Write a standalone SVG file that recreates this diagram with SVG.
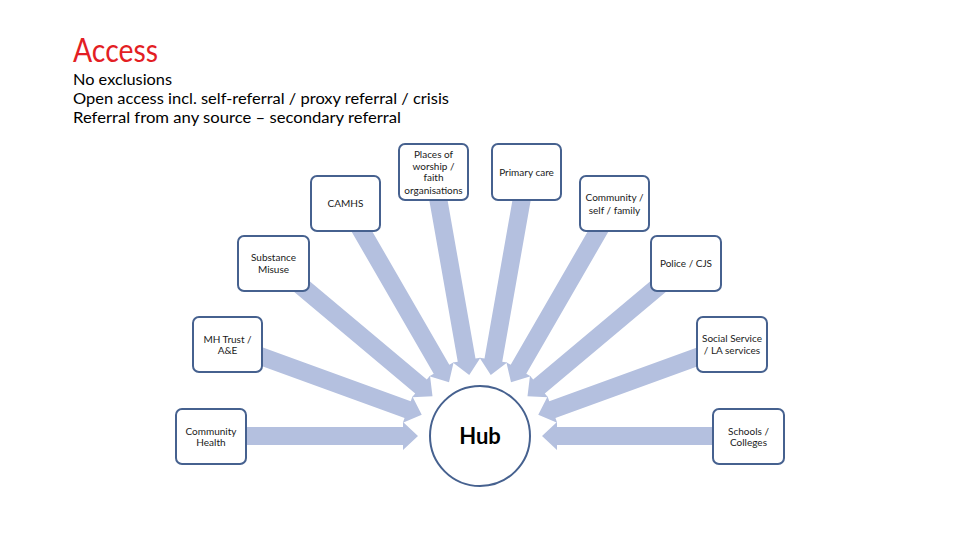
<svg xmlns="http://www.w3.org/2000/svg" xmlns:xlink="http://www.w3.org/1999/xlink" width="960" height="540" viewBox="0 0 960 540">
<style>
.box{fill:#fff;stroke:#46618f;stroke-width:2}
.lbl{font-family:Lato,"Liberation Sans",sans-serif;font-size:10px;fill:#1a1a1a;text-anchor:middle}
.hdr{font-family:Lato,"Liberation Sans",sans-serif;font-size:16px;fill:#000}
.arr{fill:#b4c0df}
</style>
<defs>
<path id="arr" class="arr" d="M-268,-9 L-77,-9 L-77,-14 L-62,0 L-77,14 L-77,9 L-268,9 Z"/>
</defs>
<rect width="960" height="540" fill="#fff"/>
<text x="73" y="62" font-family="Lato,'Liberation Sans',sans-serif" font-size="32" fill="#e31e24" textLength="85" lengthAdjust="spacingAndGlyphs">Access</text>
<text class="hdr" x="73" y="85" textLength="99" lengthAdjust="spacingAndGlyphs">No exclusions</text>
<text class="hdr" x="73" y="104" textLength="376" lengthAdjust="spacingAndGlyphs">Open access incl. self-referral / proxy referral / crisis</text>
<text class="hdr" x="73" y="123" textLength="328" lengthAdjust="spacingAndGlyphs">Referral from any source – secondary referral</text>
<g id="connectors">
<use xlink:href="#arr" transform="translate(480,436) rotate(0)"/>
<use xlink:href="#arr" transform="translate(480,436) rotate(20)"/>
<use xlink:href="#arr" transform="translate(480,436) rotate(40)"/>
<use xlink:href="#arr" transform="translate(480,436) rotate(60)"/>
<use xlink:href="#arr" transform="translate(480,436) rotate(80)"/>
<use xlink:href="#arr" transform="translate(480,436) rotate(100)"/>
<use xlink:href="#arr" transform="translate(480,436) rotate(120)"/>
<use xlink:href="#arr" transform="translate(480,436) rotate(140)"/>
<use xlink:href="#arr" transform="translate(480,436) rotate(160)"/>
<use xlink:href="#arr" transform="translate(480,436) rotate(180)"/>
</g>
<g id="hub">
<circle cx="480" cy="436" r="50" fill="#fff" stroke="#46618f" stroke-width="2"/>
<text x="480" y="444" font-family="Lato,'Liberation Sans',sans-serif" font-size="22" font-weight="bold" fill="#000" text-anchor="middle">Hub</text>
</g>
<g id="community-health">
<rect class="box" x="176" y="409" width="70" height="55" rx="6"/>
<text class="lbl" x="211" y="434.5">Community</text>
<text class="lbl" x="211" y="446">Health</text>
</g>
<g id="mh-trust">
<rect class="box" x="193" y="317" width="69" height="55" rx="6"/>
<text class="lbl" x="227.5" y="342.5">MH Trust /</text>
<text class="lbl" x="227.5" y="354">A&amp;E</text>
</g>
<g id="substance-misuse">
<rect class="box" x="238" y="236" width="71" height="55" rx="6"/>
<text class="lbl" x="273.5" y="261">Substance</text>
<text class="lbl" x="273.5" y="273">Misuse</text>
</g>
<g id="camhs">
<rect class="box" x="311" y="176" width="69" height="55" rx="6"/>
<text class="lbl" x="345.5" y="207">CAMHS</text>
</g>
<g id="places-of-worship">
<rect class="box" x="399" y="144" width="69" height="56" rx="6"/>
<text class="lbl" x="433.5" y="157.5">Places of</text>
<text class="lbl" x="433.5" y="169.5">worship /</text>
<text class="lbl" x="433.5" y="181">faith</text>
<text class="lbl" x="433.5" y="193.5">organisations</text>
</g>
<g id="primary-care">
<rect class="box" x="492" y="144" width="69" height="56" rx="6"/>
<text class="lbl" x="526.5" y="176">Primary care</text>
</g>
<g id="community-self-family">
<rect class="box" x="580" y="176" width="69" height="55" rx="6"/>
<text class="lbl" x="614.5" y="201">Community /</text>
<text class="lbl" x="614.5" y="213.5">self / family</text>
</g>
<g id="police-cjs">
<rect class="box" x="651" y="236" width="70" height="55" rx="6"/>
<text class="lbl" x="686" y="267">Police / CJS</text>
</g>
<g id="social-service">
<rect class="box" x="697" y="317" width="70" height="55" rx="6"/>
<text class="lbl" x="732" y="342">Social Service</text>
<text class="lbl" x="732" y="354">/ LA services</text>
</g>
<g id="schools-colleges">
<rect class="box" x="713" y="409" width="71" height="55" rx="6"/>
<text class="lbl" x="748.5" y="434.5">Schools /</text>
<text class="lbl" x="748.5" y="446">Colleges</text>
</g>
</svg>
